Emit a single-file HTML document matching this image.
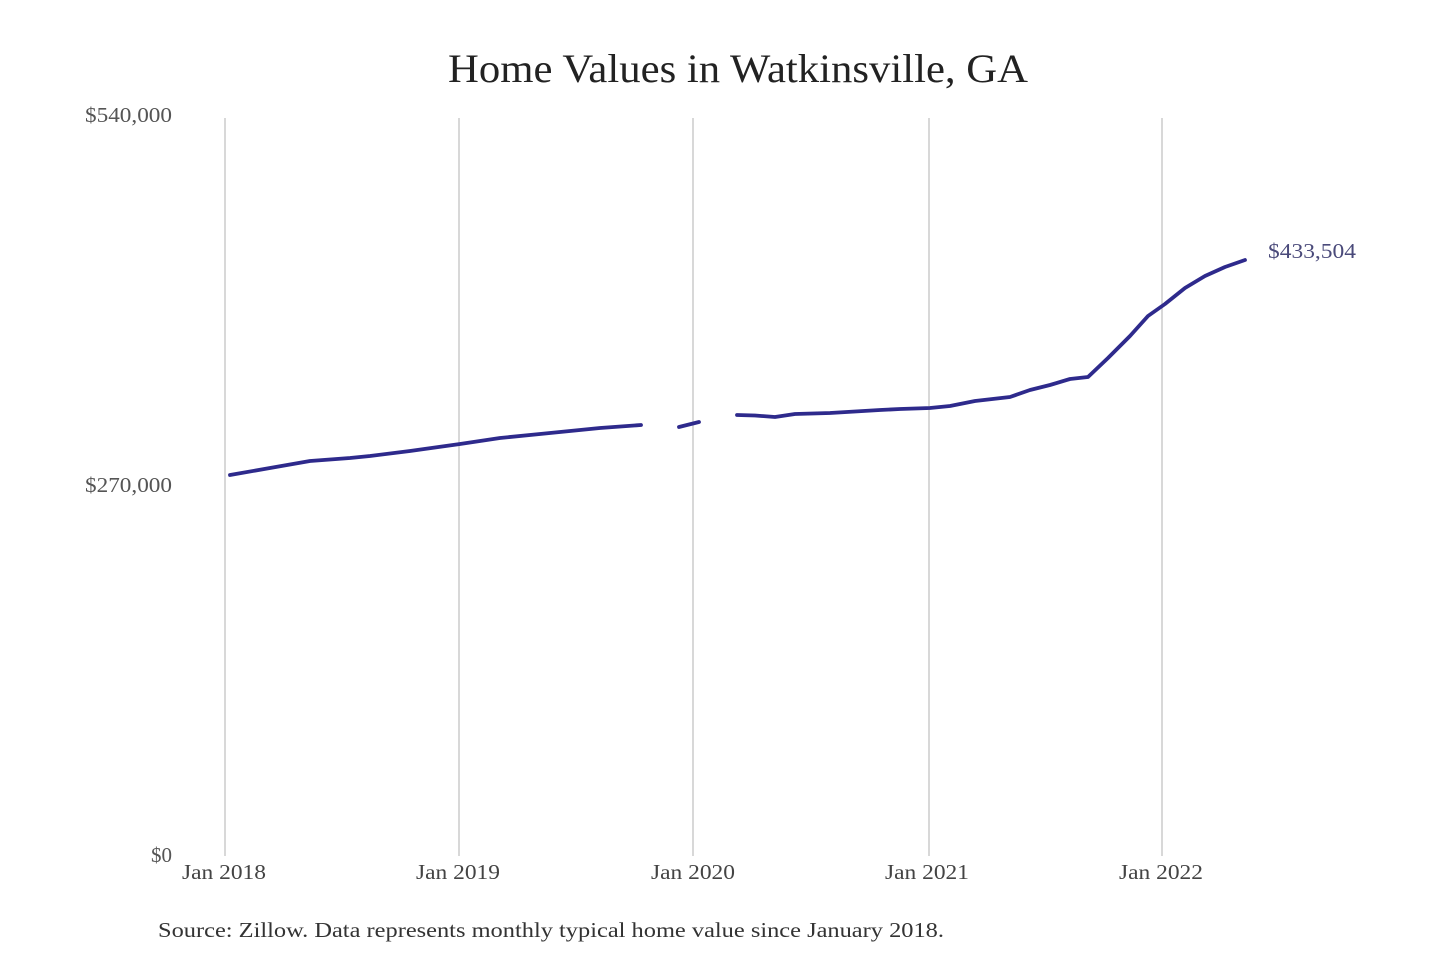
<!DOCTYPE html>
<html><head><style>
body{margin:0;background:#fff;}
svg text{font-family:"Liberation Serif",serif;}
</style></head><body>
<svg width="1440" height="960" xmlns="http://www.w3.org/2000/svg">
<rect width="1440" height="960" fill="#fff"/>
<text x="448" y="82" font-size="40" textLength="580" lengthAdjust="spacingAndGlyphs" fill="#222">Home Values in Watkinsville, GA</text>
<g stroke="#c4c4c4" stroke-width="1.3">
<line x1="225" y1="118" x2="225" y2="856"/>
<line x1="459" y1="118" x2="459" y2="856"/>
<line x1="693" y1="118" x2="693" y2="856"/>
<line x1="929" y1="118" x2="929" y2="856"/>
<line x1="1162" y1="118" x2="1162" y2="856"/>
</g>
<g font-size="21" fill="#555">
<text x="85" y="122" textLength="87" lengthAdjust="spacingAndGlyphs">$540,000</text>
<text x="85" y="492" textLength="87" lengthAdjust="spacingAndGlyphs">$270,000</text>
<text x="151" y="862" textLength="21" lengthAdjust="spacingAndGlyphs">$0</text>
</g>
<g font-size="21" fill="#444">
<text x="182" y="879" textLength="84" lengthAdjust="spacingAndGlyphs">Jan 2018</text>
<text x="416" y="879" textLength="84" lengthAdjust="spacingAndGlyphs">Jan 2019</text>
<text x="651" y="879" textLength="84" lengthAdjust="spacingAndGlyphs">Jan 2020</text>
<text x="885" y="879" textLength="84" lengthAdjust="spacingAndGlyphs">Jan 2021</text>
<text x="1119" y="879" textLength="84" lengthAdjust="spacingAndGlyphs">Jan 2022</text>
</g>
<g fill="none" stroke="#2e2a8c" stroke-width="3.8" stroke-linejoin="round" stroke-linecap="round">
<polyline points="230,475 270,468 310,461 350,458 370,456 410,451 460,444 500,438 540,434 600,428 641,425"/>
<polyline points="679,427 699,422"/>
<polyline points="737,415 755,415.5 775,417 795,414 830,413 880,410 900,409 930,408 950,406 975,401 1010,397 1030,390 1050,385 1070,379 1088,377 1108,358 1130,336 1148,316 1165,304 1185,288 1205,276 1225,267 1245,260"/>
</g>
<text x="1268" y="258" font-size="21" textLength="88" lengthAdjust="spacingAndGlyphs" fill="#4a4a7a">$433,504</text>
<text x="158" y="937" font-size="21" textLength="786" lengthAdjust="spacingAndGlyphs" fill="#333">Source: Zillow. Data represents monthly typical home value since January 2018.</text>
</svg>
</body></html>
